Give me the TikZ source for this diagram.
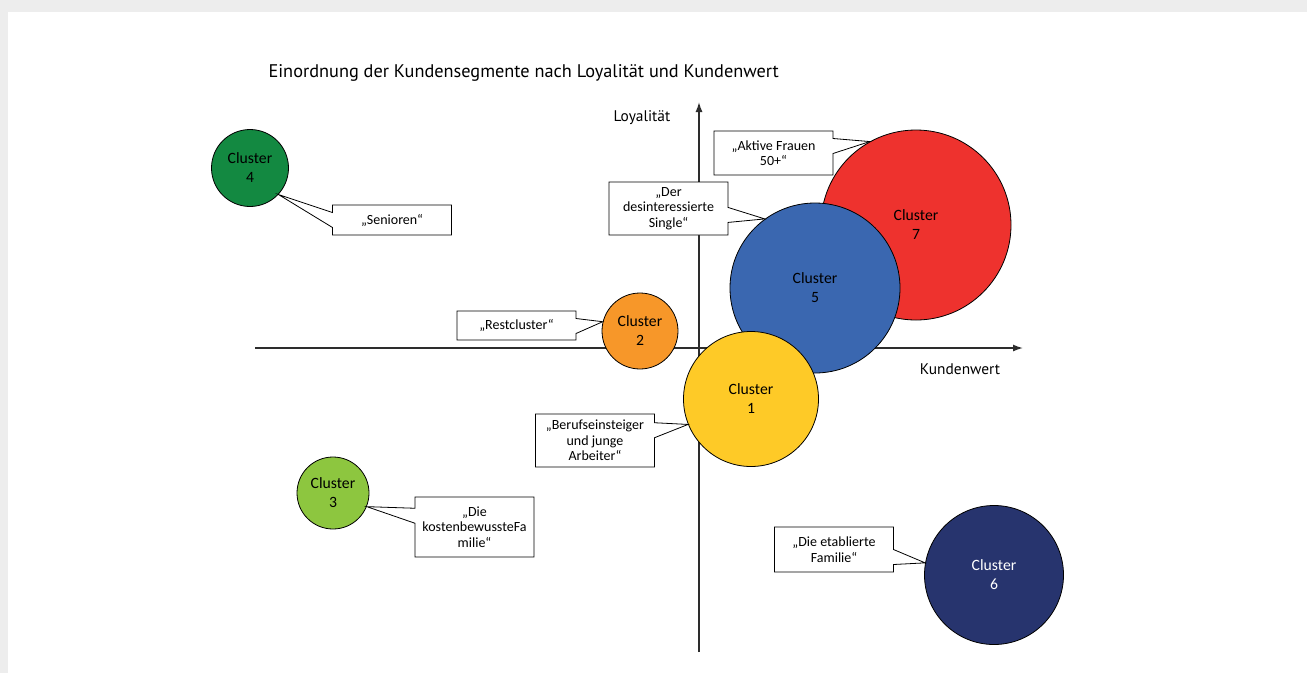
\documentclass[tikz,border=0pt]{standalone}
\usepackage{fontspec}
\setmainfont{Carlito}
\newfontfamily\titlefont{PT Sans}
\usetikzlibrary{shapes.callouts,arrows.meta}

\definecolor{clgruen}{RGB}{19,137,65}
\definecolor{clorange}{RGB}{247,151,41}
\definecolor{clhellgruen}{RGB}{141,198,63}
\definecolor{clgelb}{RGB}{254,202,39}
\definecolor{clblau}{RGB}{58,103,176}
\definecolor{clrot}{RGB}{238,50,46}
\definecolor{clnavy}{RGB}{39,52,110}
\definecolor{achsgrau}{RGB}{45,45,45}

\begin{document}
\begin{tikzpicture}[x=1pt,y=-1pt,
    cluster/.style={circle,draw=black,line width=0.8pt,inner sep=0pt,align=center,
        font=\fontsize{15.7}{19}\selectfont},
    sprechblase/.style={rectangle callout,draw=black,line width=0.8pt,fill=white,
        minimum width=119pt,inner sep=2pt,align=center,callout pointer width=15pt,
        font=\fontsize{14}{15.5}\selectfont},
    achse/.style={draw=achsgrau,line width=1.4pt,-{Latex[length=10pt,width=7pt]}}]

    % Hintergrund mit Rand
    \useasboundingbox (0,0) rectangle (1307,673);
    \fill[gray!14] (0,0) rectangle (1307,673);
    \fill[white] (8,12) rectangle (1307,673);

    % Titel
    \node[anchor=west,font=\titlefont\fontsize{18.3}{21}\selectfont] (titel) at (265,73)
        {Einordnung der Kundensegmente nach Loyalität und Kundenwert};

    % Achsen
    \coordinate (xl) at (255,348);
    \coordinate (xr) at (1023,348);
    \coordinate (yb) at (699,652);
    \coordinate (yt) at (699,102);
    \draw[achse] (xl) -- (xr);
    \draw[achse] (yb) -- (yt);
    \node[font=\titlefont\fontsize{15.4}{18}\selectfont] (loyal) at (642,118) {Loyalität};
    \node[font=\titlefont\fontsize{15.4}{18}\selectfont] (wert) at (960,369) {Kundenwert};

    % Cluster (Kreise)
    \node[cluster,fill=clrot,minimum size=190pt] (c7) at (916,225) {Cluster\\7};
    \node[cluster,fill=clblau,minimum size=170pt] (c5) at (815,288) {Cluster\\5};
    \node[cluster,fill=clgelb,minimum size=135pt] (c1) at (751,399) {Cluster\\1};
    \node[cluster,fill=clorange,minimum size=76pt] (c2) at (640,331) {Cluster\\2};
    \node[cluster,fill=clgruen,minimum size=77pt] (c4) at (250,168) {Cluster\\4};
    \node[cluster,fill=clhellgruen,minimum size=72pt] (c3) at (333,493) {Cluster\\3};
    \node[cluster,fill=clnavy,text=white,minimum size=139pt] (c6) at (994,575) {Cluster\\6};

    % Beschriftungen
    \node[sprechblase,minimum height=44pt,callout absolute pointer={(c7.119)}] (frauen) at (773.5,153)
        {„Aktive Frauen\\50+“};
    \node[sprechblase,minimum height=53pt,callout absolute pointer={(c5.126)}] (single) at (668.5,208.5)
        {„Der\\desinteressierte\\Single“};
    \node[sprechblase,minimum height=30pt,callout absolute pointer={(c4.-43)}] (senioren) at (392,220)
        {„Senioren“};
    \node[sprechblase,minimum height=29pt,callout absolute pointer={(c2.166)}] (rest) at (516.5,325.5)
        {„Restcluster“};
    \node[sprechblase,minimum height=53pt,callout absolute pointer={(c1.202)}] (beruf) at (595,440.5)
        {„Berufseinsteiger\\und junge\\Arbeiter“};
    \node[sprechblase,minimum height=60pt,callout absolute pointer={(c3.-22)}] (kosten) at (474.5,527)
        {„Die\\kostenbewussteFa\\milie“};
    \node[sprechblase,minimum height=45pt,callout absolute pointer={(c6.170)}] (etabliert) at (834,549.5)
        {„Die etablierte\\Familie“};

\end{tikzpicture}
\end{document}
